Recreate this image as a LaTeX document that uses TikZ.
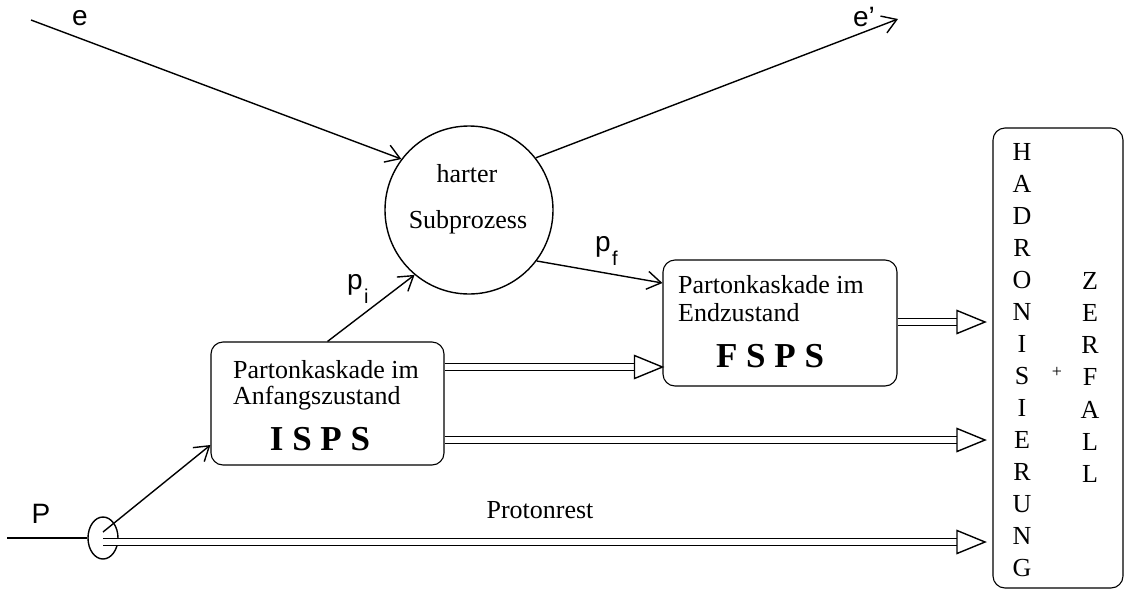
\documentclass[tikz,border=0pt]{standalone}
\usepackage{fontspec}
\setmainfont{Liberation Serif}
\newfontfamily\labfont{Liberation Sans}
\usetikzlibrary{arrows.meta,shapes.geometric,calc}
\newcommand\dblarr[2]{%
  \draw[dblshaft, shorten >=28pt] (#1) -- (#2);
  \draw[openhead] (#2) -- ++(-28,-11.5) -- ++(0,23) -- cycle;}
\begin{document}
\begin{tikzpicture}[x=1pt,y=-1pt,
  thin line/.style={line width=1.4pt},
  arr/.style={line width=1.4pt,-{Straight Barb[length=14pt,width=18pt]}},
  dblshaft/.style={double, double distance=5.5pt, line width=1.4pt},
  openhead/.style={draw, fill=white, line width=1.4pt, line join=miter},
  box/.style={draw, rounded corners=12pt, line width=1.1pt, inner sep=0pt},
  txt/.style={inner sep=0pt, font=\fontsize{26}{28}\selectfont},
  bold/.style={inner sep=0pt, font=\fontsize{35}{38}\selectfont\bfseries},
  lab/.style={inner sep=0pt, font=\labfont\fontsize{28}{30}\selectfont},
  sublab/.style={inner sep=0pt, anchor=base west, font=\labfont\fontsize{20}{22}\selectfont},
  letter/.style={inner sep=0pt, anchor=base, font=\fontsize{26}{28}\selectfont}]
\useasboundingbox (0,0) rectangle (1125,590);

% hard subprocess
\node[draw, circle, line width=1.4pt, minimum size=168pt, inner sep=0pt] (circ) at (469,210) {};
\node[txt, anchor=base] (hart) at (467,182) {harter};
\node[txt, anchor=base] (subp) at (468,228) {Subprozess};

% boxes
\node[box, minimum width=233pt, minimum height=123pt] (isps) at (327.5,403.5) {};
\node[txt, anchor=base west] (isT1) at (233,378) {Partonkaskade im};
\node[txt, anchor=base west] (isT2) at (233,404) {Anfangszustand};
\node[bold, anchor=base] (isT3) at (320,450) {I S P S};

\node[box, minimum width=234pt, minimum height=126pt] (fsps) at (780,323) {};
\node[txt, anchor=base west] (fsT1) at (678,293) {Partonkaskade im};
\node[txt, anchor=base west] (fsT2) at (678,321) {Endzustand};
\node[bold, anchor=base] (fsT3) at (770,367) {F S P S};

\node[box, minimum width=130pt, minimum height=460pt] (had) at (1058,358) {};
\foreach \c [count=\k from 0] in {H,A,D,R,O,N,I,S,I,E,R,U,N,G}
  \node[letter] (hl\k) at (1022,160+32.07*\k) {\c};
\foreach \c [count=\k from 0] in {Z,E,R,F,A,L,L}
  \node[letter] (zl\k) at (1090,289+32.3*\k) {\c};
\node[inner sep=0pt, font=\fontsize{18}{20}\selectfont] (plus) at (1057,372) {+};

% electron lines
\coordinate (eIn) at (31,20);
\coordinate (eOut) at (898,19);
\draw[arr] (eIn) -- (circ.143);
\draw[arr] (circ.38) -- (eOut);
\node[lab, anchor=base] (eLab) at (80,25) {e};
\node[lab, anchor=base] (epLab) at (864,26) {e’};

% proton
\coordinate (pIn) at (7,538);
\node[draw, ellipse, line width=1.4pt, minimum width=30pt, minimum height=42pt, inner sep=0pt] (ell) at (103,538) {};
\draw[thin line] (pIn) -- (ell.west);
\node[lab, anchor=base] (pLab) at (41,523) {P};
\coordinate (pS) at (103,532);
\coordinate (prS) at (103,542);
\coordinate (yIsIn) at (0,445);
\draw[arr] (pS) -- (isps.west |- yIsIn);

% partons
\draw[arr] (isps.north) -- (circ.230);
\node[lab, anchor=base west] (piLab) at (347,289) {p};
\node[sublab] (piSub) at (364,303) {i};
\coordinate (yPf) at (0,283);
\draw[arr] (circ.-37) -- (fsps.west |- yPf);
\node[lab, anchor=base west] (pfLab) at (595,251) {p};
\node[sublab] (pfSub) at (612,265) {f};

% double arrows
\coordinate (yA) at (0,367);
\coordinate (yB) at (0,440);
\coordinate (yC) at (0,322);
\coordinate (hB) at (985,440);
\coordinate (hC) at (985,322);
\coordinate (hD) at (985,542);
\dblarr{isps.east |- yA}{fsps.west |- yA}
\dblarr{isps.east |- yB}{hB}
\dblarr{fsps.east |- yC}{hC}
\dblarr{prS}{hD}
\node[txt, anchor=base] (prLab) at (540,518) {Protonrest};
\end{tikzpicture}
\end{document}
